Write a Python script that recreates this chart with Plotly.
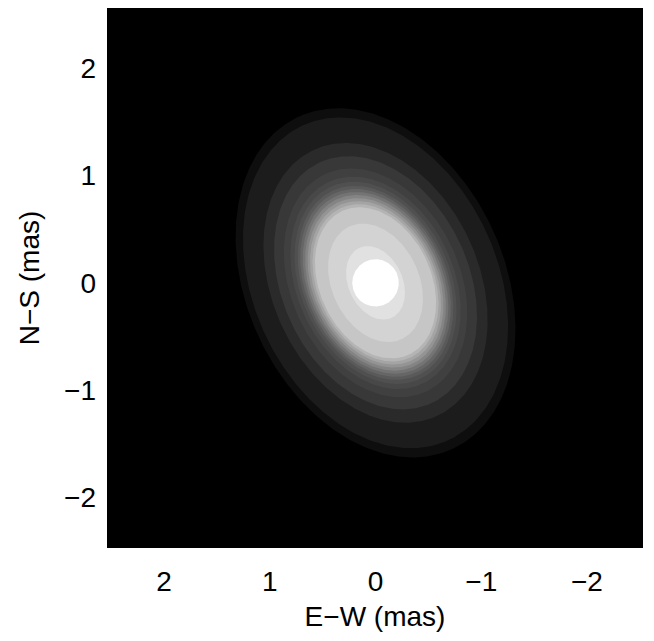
import numpy as np
import plotly.graph_objects as go

# Brightness levels (outermost to innermost)
semi_major = [1.71, 1.62, 1.37, 1.24, 1.12, 1.04, 0.99, 0.95, 0.92, 0.89,
              0.86, 0.83, 0.80, 0.77, 0.74, 0.58, 0.36]
axis_ratio = [0.71] * len(semi_major)
gray_level = [14, 28, 42, 56, 64, 72, 80, 90, 102, 116,
              132, 148, 164, 180, 198, 211, 225]
pos_angle_deg = 26.0          # major axis, east of north
core_radius = 0.22
core_gray = 255
center = (0.0, 0.0)

x_ticks = [2, 1, 0, -1, -2]
y_ticks = [-2, -1, 0, 1, 2]

t = np.linspace(0, 2 * np.pi, 361)
th = np.deg2rad(pos_angle_deg)

fig = go.Figure()
for a, q, g in zip(semi_major, axis_ratio, gray_level):
    b = a * q
    xs = center[0] + a * np.cos(t) * np.sin(th) + b * np.sin(t) * np.cos(th)
    ys = center[1] + a * np.cos(t) * np.cos(th) - b * np.sin(t) * np.sin(th)
    col = f"rgb({g},{g},{g})"
    fig.add_trace(go.Scatter(x=xs, y=ys, mode="lines", fill="toself",
                             fillcolor=col, line=dict(width=0, color=col),
                             hoverinfo="skip", showlegend=False))

xs = center[0] + core_radius * np.cos(t)
ys = center[1] + core_radius * np.sin(t)
cc = f"rgb({core_gray},{core_gray},{core_gray})"
fig.add_trace(go.Scatter(x=xs, y=ys, mode="lines", fill="toself",
                         fillcolor=cc, line=dict(width=0, color=cc),
                         hoverinfo="skip", showlegend=False))

font = dict(family="Liberation Sans, Arial, sans-serif", size=28, color="black")

fig.update_layout(
    width=646, height=633,
    margin=dict(l=99, r=11, t=0, b=93),
    paper_bgcolor="white", plot_bgcolor="black",
    font=font,
    xaxis=dict(range=[2.54, -2.53], tickvals=x_ticks, showgrid=False,
               zeroline=False, ticks="", ticklabelstandoff=14,
               title=dict(text="E\u2212W (mas)", font=font, standoff=10)),
    yaxis=dict(range=[-2.47, 2.56], tickvals=y_ticks, showgrid=False,
               zeroline=False, ticks="", ticklabelstandoff=10,
               title=dict(text="N\u2212S (mas)", font=font, standoff=16)),
)

fig.write_html("out.html")
